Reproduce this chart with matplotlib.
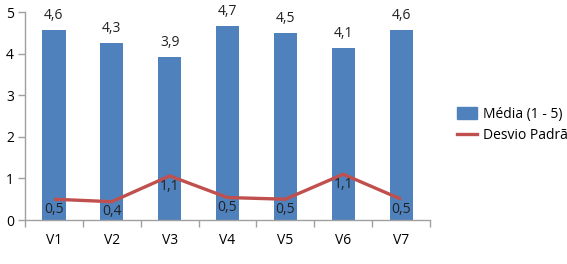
import matplotlib
matplotlib.use("Agg")
import matplotlib.pyplot as plt
import numpy as np
from matplotlib.patches import Patch
from matplotlib.lines import Line2D

categories = ["V1", "V2", "V3", "V4", "V5", "V6", "V7"]
media = [4.57, 4.26, 3.91, 4.67, 4.49, 4.13, 4.57]
desvio = [0.50, 0.44, 1.06, 0.54, 0.50, 1.10, 0.50]
yticks = [0, 1, 2, 3, 4, 5]

plt.rcParams['font.family'] = ['Open Sans', 'DejaVu Sans']
FS = 10
fig = plt.figure(figsize=(5.67, 2.64), dpi=100)
ax = fig.add_axes([25/567, 1 - 220/264, (430 - 25)/567, (220 - 12)/264])

x = np.arange(len(categories))
bar_color = "#4F81BD"
line_color = "#C0504D"
ax.bar(x, media, width=0.4, color=bar_color, zorder=2)
ax.plot(x, desvio, color=line_color, lw=2.4, zorder=3, solid_capstyle='butt')

fmt = lambda v: f"{v:.1f}".replace(".", ",")
for xi, v in zip(x, media):
    ax.annotate(fmt(v), (xi, v), xytext=(0, 5), textcoords="offset points",
                ha="center", va="bottom", fontsize=FS, color="#222222")
for xi, v in zip(x, desvio):
    ax.annotate(fmt(v), (xi, v), xytext=(0, -2), textcoords="offset points",
                ha="center", va="top", fontsize=FS, color="#222222", zorder=4)

ax.set_xlim(-0.5, len(categories) - 0.5)
ax.set_ylim(0, 5)
ax.set_yticks(yticks)
ax.set_yticklabels([str(t) for t in yticks], fontsize=FS)
ax.set_xticks(x)
ax.set_xticklabels(categories, fontsize=FS)
ax.tick_params(axis='x', which='major', length=0, pad=9)
ax.set_xticks(np.arange(-0.5, len(categories)), minor=True)
ax.tick_params(axis='x', which='minor', length=5, color="#A0A0A0", width=1)
ax.tick_params(axis='y', length=5, color="#A0A0A0", width=1, pad=3)
for s in ["top", "right"]:
    ax.spines[s].set_visible(False)
for s in ["left", "bottom"]:
    ax.spines[s].set_color("#A0A0A0")
    ax.spines[s].set_linewidth(1)

handles = [Patch(facecolor=bar_color, edgecolor=bar_color),
           Line2D([0], [0], color=line_color, lw=2.4)]
fig.legend(handles, ["Média (1 - 5)", "Desvio Padrão"], loc="upper left",
           bbox_to_anchor=(451/567, 1 - 101/264), frameon=False, fontsize=FS,
           handlelength=1.5, handleheight=0.9, handletextpad=0.4,
           labelspacing=0.45, borderaxespad=0)

fig.savefig("out.png", dpi=100)
